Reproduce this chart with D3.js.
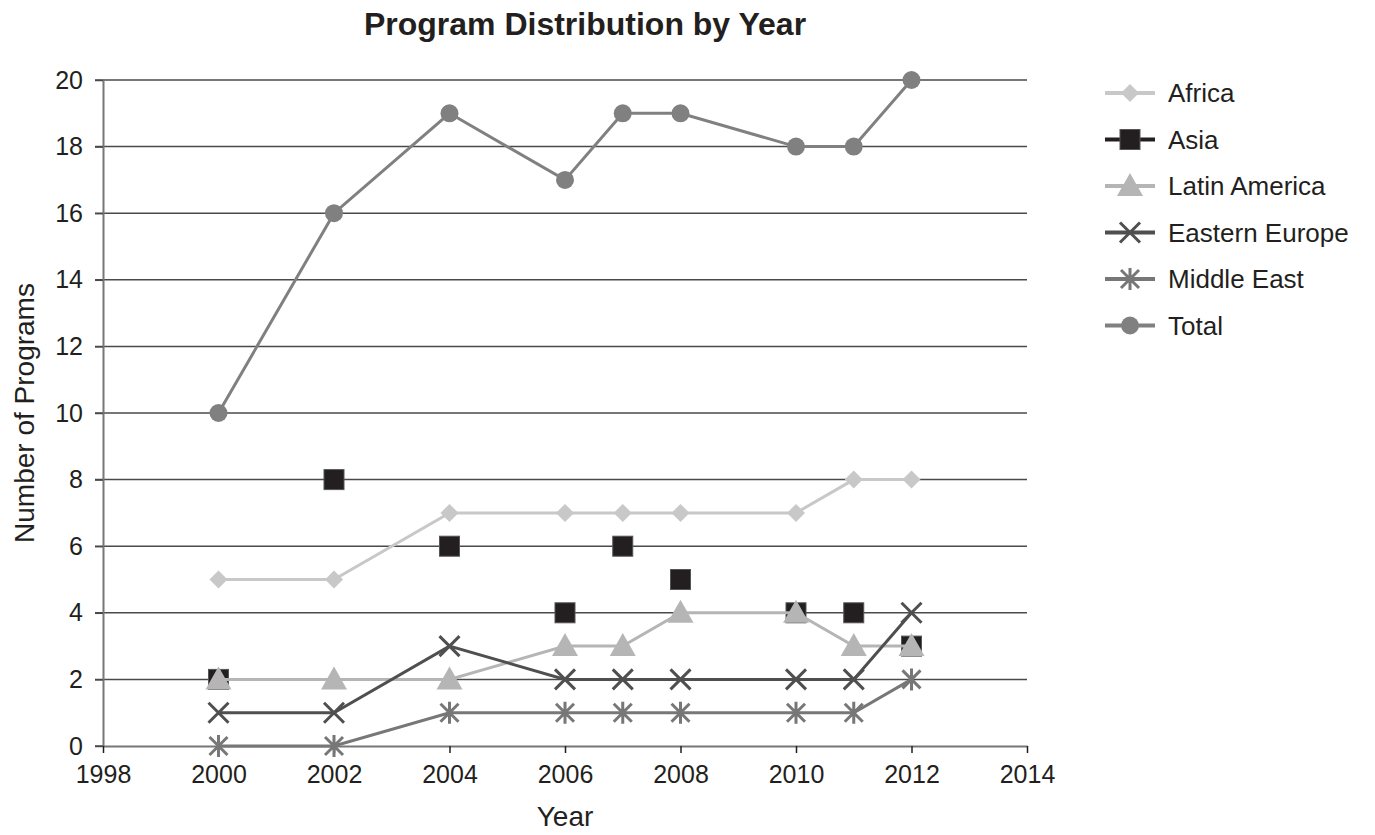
<!DOCTYPE html>
<html>
<head>
<meta charset="utf-8">
<script src="https://cdn.jsdelivr.net/npm/d3@7"></script>
<style>
body { margin: 0; background: #fff; }
text { font-family: "Liberation Sans", Arial, sans-serif; fill: #231f20; }
</style>
</head>
<body>
<svg id="chart" width="1375" height="835"></svg>
<script>
const years = [2000, 2002, 2004, 2006, 2007, 2008, 2010, 2011, 2012];
const africa = [5, 5, 7, 7, 7, 7, 7, 8, 8];
const asia = [2, 8, 6, 4, 6, 5, 4, 4, 3];
const latinAmerica = [2, 2, 2, 3, 3, 4, 4, 3, 3];
const easternEurope = [1, 1, 3, 2, 2, 2, 2, 2, 4];
const middleEast = [0, 0, 1, 1, 1, 1, 1, 1, 2];
const total = [10, 16, 19, 17, 19, 19, 18, 18, 20];
const xTicks = [1998, 2000, 2002, 2004, 2006, 2008, 2010, 2012, 2014];
const yTicks = [0, 2, 4, 6, 8, 10, 12, 14, 16, 18, 20];

const series = [
    {name: 'Africa', values: africa, color: '#c8c8c8', marker: 'diamond', line: true},
    {name: 'Asia', values: asia, color: '#231f20', marker: 'square', line: false},
    {name: 'Latin America', values: latinAmerica, color: '#b5b5b5', marker: 'triangle', line: true},
    {name: 'Eastern Europe', values: easternEurope, color: '#4f4f4f', marker: 'x', line: true},
    {name: 'Middle East', values: middleEast, color: '#777777', marker: 'star', line: true},
    {name: 'Total', values: total, color: '#808080', marker: 'circle', line: true}
];

var plotLeft = 103, plotRight = 1027, plotTop = 80, plotBottom = 746;

var svg = d3.select('#chart');

var x = d3.scaleLinear().domain([1998, 2014]).range([plotLeft, plotRight]);
var y = d3.scaleLinear().domain([0, 20]).range([plotBottom, plotTop]);

// gridlines
svg.append('g')
.attr('class', 'grid')
.selectAll('line')
.data(yTicks.filter(d => d > 0))
.enter()
.append('line')
.attr('x1', plotLeft - 8)
.attr('x2', plotRight)
.attr('y1', d => y(d))
.attr('y2', d => y(d))
.attr('stroke', '#4a4a4a')
.attr('stroke-width', 1.5);

// y axis
var yAxis = d3.axisLeft(y).tickValues(yTicks).tickSize(8).tickSizeOuter(0).tickPadding(12);
var gy = svg.append('g')
.attr('transform', 'translate(' + plotLeft + ',0)')
.call(yAxis);
gy.select('.domain').attr('stroke', '#777').attr('stroke-width', 2);
gy.selectAll('.tick line').attr('stroke', '#4a4a4a').attr('stroke-width', 1.5);
gy.selectAll('.tick text').style('font-size', '25px').attr('fill', '#231f20');

// x axis
var xAxis = d3.axisBottom(x).tickValues(xTicks).tickFormat(d3.format('d')).tickSize(7).tickSizeOuter(0).tickPadding(12);
var gx = svg.append('g')
.attr('transform', 'translate(0,' + plotBottom + ')')
.call(xAxis);
gx.select('.domain').attr('stroke', '#777').attr('stroke-width', 2);
gx.selectAll('.tick line').attr('stroke', '#231f20').attr('stroke-width', 1.5);
gx.selectAll('.tick text').style('font-size', '25px').attr('fill', '#231f20');
svg.append('line')
.attr('x1', plotLeft - 8).attr('x2', plotLeft)
.attr('y1', plotBottom).attr('y2', plotBottom)
.attr('stroke', '#4a4a4a').attr('stroke-width', 1.5);

// titles
svg.append('text')
.attr('x', 585).attr('y', 35)
.attr('text-anchor', 'middle')
.style('font-size', '32px').style('font-weight', 'bold')
.text('Program Distribution by Year');

svg.append('text')
.attr('x', 565).attr('y', 826)
.attr('text-anchor', 'middle')
.style('font-size', '28px')
.text('Year');

svg.append('text')
.attr('transform', 'translate(34,' + ((plotTop + plotBottom) / 2) + ') rotate(-90)')
.attr('text-anchor', 'middle')
.style('font-size', '28px')
.text('Number of Programs');

function drawMarker(g, type, color) {
    if (type === 'diamond') {
        g.append('path').attr('d', 'M0,-9L9,0L0,9L-9,0Z').attr('fill', color);
    } else if (type === 'square') {
        g.append('rect').attr('x', -10).attr('y', -10).attr('width', 20).attr('height', 20)
        .attr('fill', color).attr('stroke', '#555').attr('stroke-width', 1);
    } else if (type === 'triangle') {
        g.append('path').attr('d', 'M0,-13L13,10L-13,10Z').attr('fill', color);
    } else if (type === 'x') {
        g.append('path').attr('d', 'M-10,-10L10,10M-10,10L10,-10')
        .attr('stroke', color).attr('stroke-width', 3).attr('fill', 'none');
    } else if (type === 'star') {
        g.append('path').attr('d', 'M-9,-9L9,9M-9,9L9,-9M0,-11L0,11')
        .attr('stroke', color).attr('stroke-width', 3).attr('fill', 'none');
    } else if (type === 'circle') {
        g.append('circle').attr('r', 9).attr('fill', color);
    }
}

var line = d3.line()
.x((d, i) => x(years[i]))
.y(d => y(d));

series.forEach(function (s) {
    var g = svg.append('g').attr('class', 'series');
    if (s.line) {
        g.append('path')
        .datum(s.values)
        .attr('d', line)
        .attr('fill', 'none')
        .attr('stroke', s.color)
        .attr('stroke-width', 3);
    }
    g.selectAll('.pt')
    .data(s.values)
    .enter()
    .append('g')
    .attr('class', 'pt')
    .attr('transform', (d, i) => 'translate(' + x(years[i]) + ',' + y(d) + ')')
    .each(function () { drawMarker(d3.select(this), s.marker, s.color); });
});

// legend
var legend = svg.append('g').attr('transform', 'translate(1105,93)');
var item = legend.selectAll('.item')
.data(series)
.enter()
.append('g')
.attr('class', 'item')
.attr('transform', (d, i) => 'translate(0,' + (i * 46.5) + ')');
item.append('line')
.attr('x1', 0).attr('x2', 50)
.attr('stroke', d => d.color)
.attr('stroke-width', 4);
item.each(function (d) {
    var m = d3.select(this).append('g').attr('transform', 'translate(25,0)');
    drawMarker(m, d.marker, d.color);
});
item.append('text')
.attr('x', 63).attr('y', 0).attr('dy', '0.35em')
.style('font-size', '26px')
.text(d => d.name);
</script>
</body>
</html>
